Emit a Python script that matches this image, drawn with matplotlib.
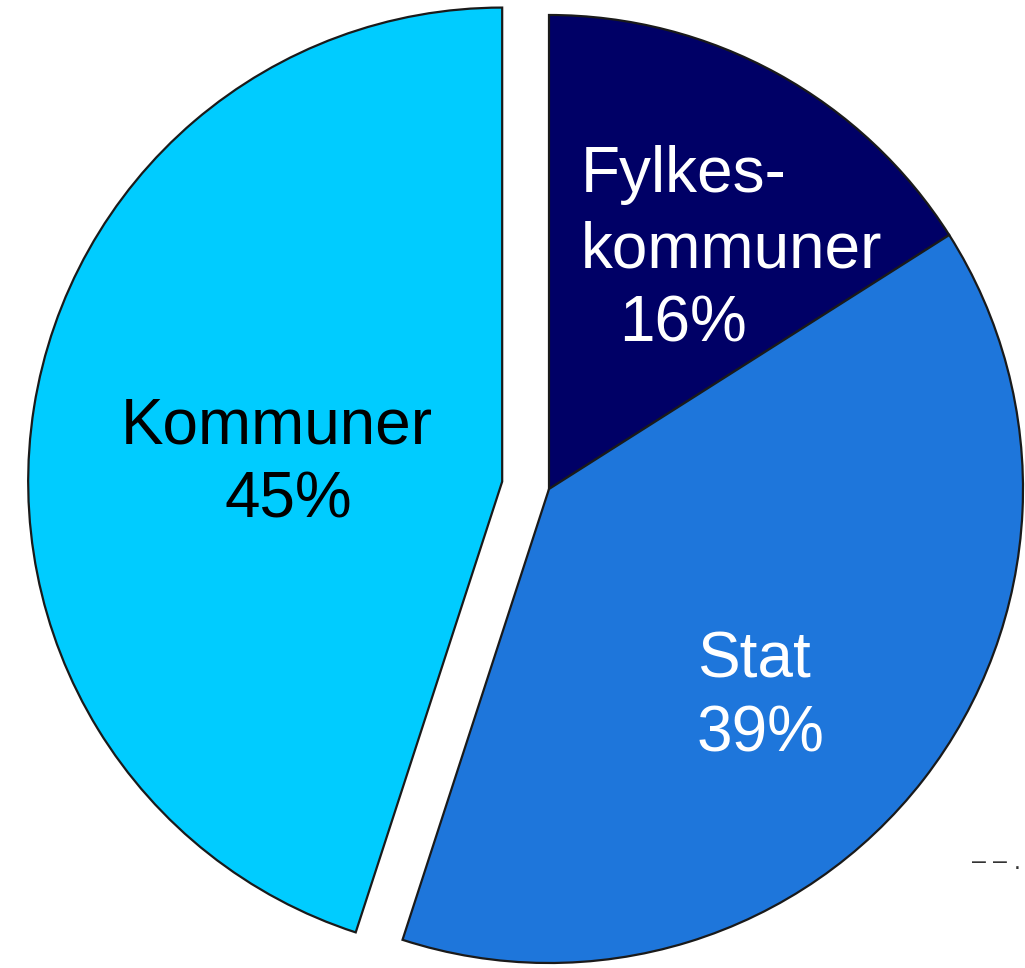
import matplotlib
matplotlib.use("Agg")
import matplotlib.pyplot as plt

# data
kategorier = ["Fylkeskommuner", "Stat", "Kommuner"]
andeler = [16, 39, 45]
farger = ["#000066", "#1E76DB", "#00CCFF"]

W, H = 1025, 968
R = 474

fig = plt.figure(figsize=(W / 100, H / 100), dpi=100)
ax = fig.add_axes([0, 0, 1, 1])

# explode maales i dataenheter, ikke som andel av radius
utskilt = [0, 0, 0.1 * R]

ax.pie(andeler, colors=farger, explode=utskilt, startangle=90,
       counterclock=False, radius=R, center=(549, H - 489),
       wedgeprops=dict(edgecolor="#1a1a1a", linewidth=1.6))

# pie() endrer aksene, saa grensene settes etterpaa
ax.set_xlim(0, W)
ax.set_ylim(0, H)
ax.set_aspect("equal")
ax.axis("off")

fs = 46
font = "Liberation Sans"

def tekst(x, y_bilde, s, farge, ha="left", size=fs):
    ax.text(x, H - y_bilde, s, color=farge, fontsize=size, family=font,
            ha=ha, va="baseline")

# Fylkeskommuner
tekst(581, 192, "Fylkes-", "white")
tekst(581, 267, "kommuner", "white")
tekst(619, 342, f"{andeler[0]}%", "white")

# Stat
tekst(697, 677, "Stat", "white")
tekst(697, 752, f"{andeler[1]}%", "white")

# Kommuner
tekst(277, 443, "Kommuner", "black", ha="center")
tekst(288, 518, f"{andeler[2]}%", "black", ha="center")

# liten rest nede til hoeyre
ax.text(1021, H - 862, "– – .", color="#333333", fontsize=18, family=font,
        ha="right", va="center")

plt.savefig("out.png", dpi=100)
